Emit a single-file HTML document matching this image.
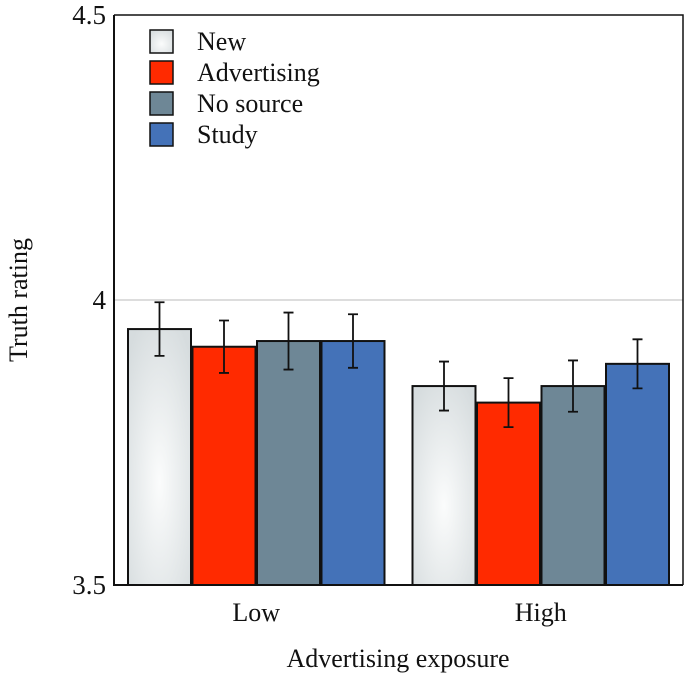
<!DOCTYPE html>
<html><head><meta charset="utf-8"><style>
body{margin:0;background:#fff}
svg text{font-family:"Liberation Serif",serif;fill:#111}
</style></head><body>
<svg id="c" width="685" height="679" viewBox="0 0 685 679">
<defs>
<radialGradient id="gNew" cx="0.5" cy="0.6" r="0.7"><stop offset="0" stop-color="#fbfcfc"/><stop offset="1" stop-color="#d6dcde"/></radialGradient>
</defs>
<g id="plot"></g>
</svg>
<script>
const groups=['Low','High'];
const series=['New','Advertising','No source','Study'];
const colors=['url(#gNew)','#ff2a00','#6e8796','#4472b8'];
const vNew=[3.949,3.849];
const vAdv=[3.918,3.820];
const vNoSrc=[3.928,3.849];
const vStudy=[3.928,3.888];
const errNew=[0.047,0.043];
const errAdv=[0.046,0.043];
const errNoSrc=[0.050,0.045];
const errStudy=[0.047,0.043];
const yTicks=[3.5,4,4.5];
const yTickLabels=['3.5','4','4.5'];
const vals=[vNew,vAdv,vNoSrc,vStudy];
const errs=[errNew,errAdv,errNoSrc,errStudy];
const NS='http://www.w3.org/2000/svg';
const svg=document.getElementById('c');
const L=114,R=683,T=15,B=585,ymin=3.5,ymax=4.5;
const y=v=>B-(v-ymin)/(ymax-ymin)*(B-T);
const gw=(R-L)/2, bw=63, gap=1.5;
const gx=i=>L+gw*i+gw/2;
function mk(t,a,p){const e=document.createElementNS(NS,t);for(const k in a)e.setAttribute(k,a[k]);(p||svg).appendChild(e);return e;}
// gridline at 4
const gl=mk('line',{x1:L,x2:R,y1:y(4),y2:y(4),stroke:'#bbb','stroke-width':1});


groups.forEach((g,gi)=>{
  series.forEach((s,si)=>{
    const x=gx(gi)+(si-2)*(bw+gap)+gap/2;
    const v=vals[si][gi];
    const r=mk('rect',{x:x,y:y(v),width:bw,height:B-y(v),fill:colors[si],stroke:'#111','stroke-width':2});
    
    
    const cx=x+bw/2,e=errs[si][gi];
    const eb=mk('path',{d:`M${cx},${y(v+e)}V${y(v-e)}M${cx-5},${y(v+e)}H${cx+5}M${cx-5},${y(v-e)}H${cx+5}`,stroke:'#111','stroke-width':1.8,fill:'none'});
    
    
  });
  const t=mk('text',{x:gx(gi),y:621,'text-anchor':'middle','font-size':26});
  t.textContent=g;
  
  
});
// axes box
const ax=mk('path',{d:`M${L},${T}V${B}H${R}`,stroke:'#111','stroke-width':2,fill:'none'});


const tp=mk('path',{d:`M${L},${T}H${R}V${B}`,stroke:'#111','stroke-width':1.5,fill:'none'});


yTicks.forEach((v,i)=>{
  const t=mk('text',{x:L-8,y:y(v)+9,'text-anchor':'end','font-size':27});
  t.textContent=yTickLabels[i];
  
  
});
const xt=mk('text',{x:398,y:667,'text-anchor':'middle','font-size':26});
xt.textContent='Advertising exposure';


const yt=mk('text',{x:0,y:0,'text-anchor':'middle','font-size':26,transform:'translate(27,300) rotate(-90)'});
yt.textContent='Truth rating';


series.forEach((s,si)=>{
  const yy=30+si*31;
  const r=mk('rect',{x:150,y:yy,width:23,height:23,fill:colors[si],stroke:'#111','stroke-width':1.5});
  
  
  const t=mk('text',{x:197,y:yy+20,'font-size':26});
  t.textContent=s;
  
  
});
</script>
</body></html>
